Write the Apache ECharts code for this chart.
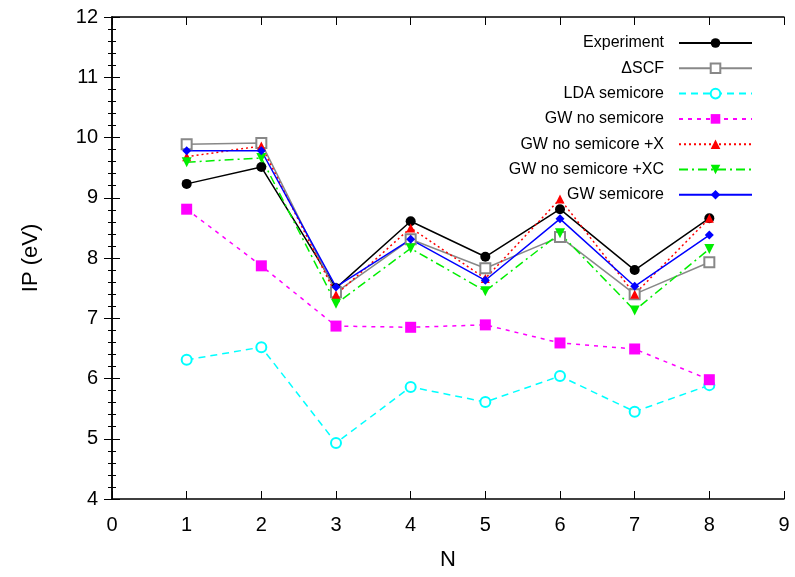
<!DOCTYPE html>
<html>
<head>
<meta charset="utf-8">
<script src="https://cdn.jsdelivr.net/npm/echarts@6/dist/echarts.min.js"></script>
<style>
  html, body { margin: 0; padding: 0; background: #fff; }
  #chart { width: 795px; height: 577px; }
</style>
</head>
<body>
<div id="chart"></div>
<script>
// Ionization potentials (eV) versus cluster size N
const N = [1, 2, 3, 4, 5, 6, 7, 8];
const experiment     = [9.23, 9.51, 7.50, 8.61, 8.02, 8.81, 7.80, 8.66];
const deltaSCF       = [9.89, 9.91, 7.43, 8.31, 7.83, 8.35, 7.40, 7.93];
const ldaSemicore    = [6.31, 6.52, 4.93, 5.86, 5.61, 6.04, 5.45, 5.89];
const gwNoSemicore   = [8.81, 7.87, 6.87, 6.85, 6.89, 6.59, 6.49, 5.98];
const gwNoSemicoreX  = [9.68, 9.86, 7.39, 8.50, 7.66, 8.98, 7.40, 8.66];
const gwNoSemicoreXC = [9.59, 9.66, 7.24, 8.16, 7.45, 8.41, 7.13, 8.15];
const gwSemicore     = [9.78, 9.78, 7.52, 8.31, 7.63, 8.65, 7.53, 8.38];

const xTicks = [0, 1, 2, 3, 4, 5, 6, 7, 8, 9];
const yTicks = [4, 5, 6, 7, 8, 9, 10, 11, 12];

const FONT = '"Liberation Sans", Arial, Helvetica, sans-serif';
const pairs = ys => N.map((n, i) => [n, ys[i]]);

const seriesDefs = [
  { name: 'Experiment', data: experiment, color: '#000000', type: 'solid',
    symbol: 'circle', size: 10, hollow: false },
  { name: '\u0394SCF', data: deltaSCF, color: '#888888', type: 'solid',
    symbol: 'rect', size: 10, hollow: true },
  { name: 'LDA semicore', data: ldaSemicore, color: '#00ffff', type: [7, 5],
    symbol: 'circle', size: 10, hollow: true },
  { name: 'GW no semicore', data: gwNoSemicore, color: '#ff00ff', type: [4, 5],
    symbol: 'rect', size: 11, hollow: false },
  { name: 'GW no semicore +X', data: gwNoSemicoreX, color: '#ff0000', type: [2, 3],
    symbol: 'triangle', size: 9, hollow: false },
  { name: 'GW no semicore +XC', data: gwNoSemicoreXC, color: '#00ee00', type: [9, 4, 2, 4],
    symbol: 'path://M0,0 L10,0 L5,9 Z', size: 10, hollow: false },
  { name: 'GW semicore', data: gwSemicore, color: '#0000ff', type: 'solid',
    symbol: 'diamond', size: 9, hollow: false }
];

const series = seriesDefs.map(d => ({
  name: d.name,
  type: 'line',
  data: pairs(d.data),
  symbol: d.symbol,
  symbolSize: d.size,
  showAllSymbol: true,
  lineStyle: { color: d.color, width: 1.5, type: d.type },
  itemStyle: d.hollow
    ? { color: '#ffffff', borderColor: d.color, borderWidth: 2 }
    : { color: d.color, borderWidth: 0 },
  emphasis: { disabled: true },
  animation: false,
  z: 3
}));

// one legend block per entry so text is right-aligned against the sample line
const legends = seriesDefs.map((d, i) => ({
  data: [d.name],
  orient: 'vertical',
  right: 42,
  top: 43 + 25.3 * i - 8,
  align: 'right',
  padding: 0,
  itemWidth: 73,
  itemHeight: 12,
  selectedMode: false,
  textStyle: { fontFamily: FONT, fontSize: 16, color: '#000', padding: [0, 10, 0, 0] }
}));

const axisLine = { show: true, lineStyle: { color: '#000', width: 1.5 } };

const option = {
  backgroundColor: '#ffffff',
  animation: false,
  grid: { left: 112, right: 11, top: 17, bottom: 78 },
  legend: legends,
  xAxis: [
    {
      type: 'value', min: xTicks[0], max: xTicks[xTicks.length - 1], interval: 1,
      position: 'bottom',
      name: 'N', nameLocation: 'middle', nameGap: 50,
      nameTextStyle: { fontFamily: FONT, fontSize: 22, color: '#000' },
      axisLine: axisLine,
      axisTick: { inside: true, length: 8, lineStyle: { color: '#000', width: 1 } },
      axisLabel: { fontFamily: FONT, fontSize: 20, color: '#000', margin: 16 },
      splitLine: { show: false }
    },
    {
      type: 'value', min: xTicks[0], max: xTicks[xTicks.length - 1], interval: 1,
      position: 'top',
      axisLine: axisLine,
      axisTick: { inside: true, length: 8, lineStyle: { color: '#000', width: 1 } },
      axisLabel: { show: false },
      splitLine: { show: false }
    }
  ],
  yAxis: [
    {
      type: 'value', min: yTicks[0], max: yTicks[yTicks.length - 1], interval: 1,
      position: 'left',
      name: 'IP (eV)', nameLocation: 'middle', nameGap: 70,
      nameTextStyle: { fontFamily: FONT, fontSize: 22, color: '#000' },
      axisLine: axisLine,
      axisTick: { inside: true, length: 8, lineStyle: { color: '#000', width: 1 } },
      minorTick: { show: true, splitNumber: 5, length: 4, lineStyle: { color: '#000', width: 1 } },
      axisLabel: { fontFamily: FONT, fontSize: 20, color: '#000', margin: 14 },
      splitLine: { show: false }
    },
    {
      type: 'value', min: yTicks[0], max: yTicks[yTicks.length - 1], interval: 1,
      position: 'right',
      axisLine: axisLine,
      axisTick: { inside: true, length: 8, lineStyle: { color: '#000', width: 1 } },
      minorTick: { show: true, splitNumber: 5, length: 4, lineStyle: { color: '#000', width: 1 } },
      axisLabel: { show: false },
      splitLine: { show: false }
    }
  ],
  series: series
};

const chart = echarts.init(document.getElementById('chart'), null, { renderer: 'canvas' });
chart.setOption(option);
</script>
</body>
</html>
